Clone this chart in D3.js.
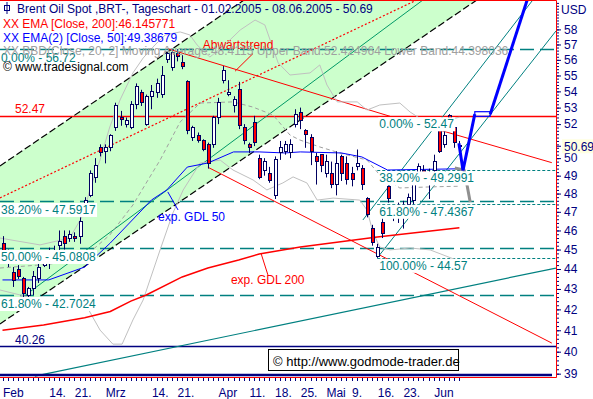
<!DOCTYPE html>
<html>
<head>
<meta charset="utf-8">
<script src="https://cdn.jsdelivr.net/npm/d3@7"></script>
<style>
  body { margin: 0; background: #fff; }
  text { font-family: "Liberation Sans", Arial, sans-serif; font-size: 12px; }
</style>
</head>
<body>
<div id="chart"></div>
<script>
// daily candles, 01.02.2005 - 08.06.2005 (index = trading day)
var opens  = [45.3,44.8,43.8,44.0,43.5,42.7,43.0,43.5,44.2,44.6, 44.8,45.2,45.7,45.6,45.7,45.7,47.1,47.9,48.9,50.6,
              50.4,50.6,51.8,52.4,52.0,51.8,53.2,53.9,52.0,53.7, 53.9,53.8,56.0,55.5,56.4,55.8,54.6,51.2,51.3,51.0,
              50.8,50.8,52.4,54.7,53.8,53.1,54.1,51.8,50.8,52.1, 50.0,49.3,49.1,47.9,50.3,50.4,50.3,52.0,52.7,51.6,
              51.2,50.1,50.2,49.1,49.1,48.5,50.1,49.7,49.1,49.5, 49.4,47.75,46.1,44.65,46.45,48.37,47.2,47.0,47.1,47.4,
              47.6,49.1,49.3,48.6,49.3,51.6,50.8,52.5,51.8,50.75];
var highs  = [45.7,45.0,44.1,44.2,43.6,43.1,43.9,44.5,44.9,45.1, 45.2,46.0,46.0,46.0,45.9,46.7,47.8,49.3,50.0,50.8,
              50.8,51.4,53.3,52.8,52.4,53.4,54.5,54.1,53.8,54.4, 54.8,55.6,56.5,56.72,56.7,56.3,54.7,51.9,51.5,51.1,
              50.9,52.5,53.6,55.6,54.7,53.7,54.6,52.0,50.9,52.5, 50.2,50.0,49.5,50.1,51.0,51.0,51.1,52.9,53.0,51.7,
              51.4,50.3,50.2,50.2,49.8,50.4,50.2,50.1,49.5,50.5, 49.6,47.8,46.3,45.3,46.7,48.6,47.3,47.5,47.6,48.0,
              48.8,49.7,49.6,49.4,50.2,51.8,51.6,52.6,52.0,51.0];
var lows   = [44.7,44.1,43.1,43.5,42.6,42.5,42.7,43.3,44.1,44.0, 44.5,44.9,45.0,45.4,45.4,45.3,46.9,47.8,48.6,50.1,
              49.7,50.4,51.6,51.9,51.8,51.7,52.9,53.1,51.9,52.9, 53.6,53.6,55.8,55.3,55.9,55.4,51.4,51.0,50.9,50.4,
              49.4,50.6,52.0,54.5,53.7,52.7,51.7,50.8,50.3,50.7, 48.8,49.0,48.6,47.7,49.9,50.2,50.0,51.8,51.7,50.6,
              49.6,48.5,49.2,48.9,48.3,47.9,48.7,48.5,48.4,49.3, 48.2,46.7,45.2,44.57,45.6,47.5,46.5,46.4,46.1,47.2,
              47.4,48.9,48.8,47.7,49.2,50.3,50.6,51.6,50.6,50.5];
var closes = [44.9,44.5,43.4,43.6,42.8,43.0,43.6,44.1,44.6,44.8, 44.9,45.4,45.3,45.8,45.6,46.5,47.6,49.1,49.6,50.3,
              50.6,51.3,53.1,52.3,52.2,53.2,54.3,53.3,53.7,54.0, 54.5,55.0,56.4,56.5,56.2,55.6,51.6,51.8,51.0,50.5,
              49.7,52.4,53.3,55.3,53.9,53.5,51.9,51.0,50.6,50.9, 48.9,49.8,48.7,49.9,50.6,50.8,50.8,52.6,52.2,51.4,
              50.4,49.8,49.6,49.8,48.5,49.7,49.1,48.8,48.8,49.7, 48.48,46.83,45.39,45.1,45.86,47.75,47.0,47.3,47.3,47.8,
              48.6,49.5,49.2,49.0,49.8,50.4,51.3,51.8,50.9,50.69];

// indicators: [day index, price]
var ema200 = [[0,41.0],[8,41.25],[16,41.6],[21,41.9],[25,42.4],[28,42.7],[35,43.6],[40,44.05],
              [46,44.46],[50,44.77],[58,45.13],[73,45.66],[89,46.15]];
var ema50  = [[0,43.45],[9,43.45],[16,44.1],[21,45.34],[29,47.64],[32,48.2],[36,49.49],[40,49.72],
              [45,50.36],[50,50.36],[55,50.3],[58,50.36],[66,50.3],[70,50.07],[75,49.32],[89,49.39]];
var bbUpper = [[-0.5,45.6],[7.3,45.24],[13.1,45.6],[15.7,46.83],[17,48.2],[19,49.89],[20.9,51.83],[22.9,53.47],
               [25.4,55.16],[27.4,56.12],[29.7,56.97],[31.7,57.63],[34.6,57.83],[36.5,57.63],[37.9,56.97],
               [40.4,56.18],[43.3,56.97],[46.3,57.96],[49.2,58.63],[51.1,58.3],[53.7,55.8],[56,55.03],[59.9,55.16],
               [61.8,55.67],[63.2,54.4],[65.2,53.35],[69.1,53.35],[71,52.85],[73.5,53.16],[77.4,53.28],
               [79.4,52.73],[83.3,51.95],[89,52.42]];
var bbLower = [[-0.5,42.95],[7.3,42.46],[15.7,42.46],[19,41.01],[21.5,40.35],[23.3,40.35],[25.4,41.49],
               [27.4,42.46],[30.7,44.98],[33.2,46.94],[35.2,48.2],[38.5,49.72],[42.4,49.89],[44.9,49.32],
               [48.8,48.76],[51.5,48.2],[54.6,48.59],[56.6,48.93],[59.3,48.59],[61.3,47.64],[64.4,47.75],
               [69.6,47.64],[71,47.1],[72.2,45.87],[73.5,45.13],[75.5,44.98],[79.4,45.08],[83.3,44.98],[89,44.4]];
var bbMiddle = [[-0.5,44.05],[9.25,44.25],[15.7,44.56],[20.9,45.76],[25.4,47.37],[30.7,49.89],[34.6,52.13],
                [38.5,53.28],[44.9,53.35],[48.8,53.03],[52.7,52.55],[56,51.35],[57.9,51.06],[61.8,50.65],
                [65.7,50.3],[71,49.89],[73.5,49.04],[77.4,48.31],[83.3,48.37],[89,48.41]];

// drawing tools: [day index, price]
var channelUpper = [[-0.5,49.55],[47.04,60]];
var channelLower = [[-0.5,41.3],[92.4,60]];
var channelFill  = [[-0.5,49.55],[47.04,60],[92.4,60],[-0.5,41.3]];
var redDotted    = [[-0.5,47.76],[80.7,60]];
var tealChannel  = [[4.5,42.7],[81.9,60]];
var tealLong     = [[6.3,38.89],[107.8,44.05]];
var downTrend    = [[32.2,56.72],[75.5,52.47]];
var downLower    = [[40,49.48],[107,40.4]];
var shortRed     = [[85.2,51.64],[107,49.74]];
var tealRightA   = [[70.2,46.56],[103.3,60]];
var tealRightB   = [[73.1,44.6],[107.8,57.89]];
var blueForecast1 = [[88.9,50.87],[89.7,49.3],[92.0,52.6]];
var blueForecast2 = [[95.0,52.6],[102.2,60]];
var blueBox       = [92.0,95.0,52.47,52.75];
var grayForecast  = [[88.1,49.43],[89.9,49.32],[90.3,48.76],[91.1,47.53]];

var fib1Levels = [56.72,47.5917,45.0808,42.7024];
var fib1Labels = ["0.00% - 56.72","38.20% - 47.5917","50.00% - 45.0808","61.80% - 42.7024"];
var fib2Levels = [52.47,49.2991,47.4367,44.57];
var fib2Labels = ["0.00% - 52.47","38.20% - 49.2991","61.80% - 47.4367","100.00% - 44.57"];
var fib2Start = 73;

var xTickIndex = [0,9,14,20,29,34,42,48,53,58,63,68,73,78,84];
var xTickLabel = ["Feb","14.","21.","Mrz","14.","21.","Apr","11.","18.","25.","Mai","9.","16.","23.","Jun"];
var yTickValues = [39,40,41,42,43,44,45,46,47,48,49,50,51,52,53,54,55,56,57,58];
var lastClose = 50.69;

var W = 593, H = 399, plotW = 556, plotH = 377;
var navy = "#000080", teal = "#008080";

var x = d3.scaleLinear().domain([0, 89]).range([2.5, 459.4]);
var y = d3.scaleLog().domain([38.85, 60]).range([plotH, 0]);
var line = d3.line().x(function (d) { return x(d[0]); }).y(function (d) { return y(d[1]); });

var svg = d3.select("#chart").append("svg").attr("width", W).attr("height", H);
svg.append("rect").attr("width", W).attr("height", H).attr("fill", "#fff");
svg.append("clipPath").attr("id", "plot").append("rect").attr("width", plotW).attr("height", plotH);

var g = svg.append("g").attr("clip-path", "url(#plot)");

g.append("path").attr("d", line(channelFill) + "Z").attr("fill", "#ccffcc");

function hline(v, color, dash, width, x0) {
  g.append("line")
    .attr("x1", x0 === undefined ? 0 : x(x0)).attr("x2", plotW)
    .attr("y1", Math.round(y(v)) + 0.5).attr("y2", Math.round(y(v)) + 0.5)
    .attr("stroke", color).attr("stroke-width", width || 1)
    .attr("stroke-dasharray", dash || null);
}
fib1Levels.forEach(function (v) { hline(v, teal, "14,6", 1.3); });
fib2Levels.forEach(function (v) { hline(v, teal, "3,2", 1, fib2Start); });
hline(52.47, "#ff0000", null, 1.3);
hline(40.26, navy, null, 1.3);

function path(data, color, width, dash) {
  g.append("path").attr("d", line(data)).attr("fill", "none")
    .attr("stroke", color).attr("stroke-width", width || 1)
    .attr("stroke-dasharray", dash || null);
}
path(channelUpper, "#000", 1.2, "7,3");
path(channelLower, "#000", 1.2, "7,3");
path(redDotted, "#ff0000", 1.2, "2,2");
path(tealChannel, "#009966", 1);
path(tealLong, teal, 1.2);
path(downTrend, "#ff0000", 1);
path(downLower, "#ff0000", 1);
path(shortRed, "#ff0000", 1);
path(tealRightA, teal, 1);
path(tealRightB, teal, 1);

path(bbUpper, "#c0c0c0", 1);
path(bbLower, "#c0c0c0", 1);
path(bbMiddle, "#a0a0a0", 1, "4,3");
path(ema200, "#ff0000", 1.5);
path(ema50, "#0000ff", 1);

// candles
var days = d3.range(closes.length);
var candle = g.append("g").selectAll("g").data(days).enter().append("g");
candle.append("line")
  .attr("x1", function (i) { return Math.round(x(i)) + 0.5; })
  .attr("x2", function (i) { return Math.round(x(i)) + 0.5; })
  .attr("y1", function (i) { return y(highs[i]); })
  .attr("y2", function (i) { return y(lows[i]); })
  .attr("stroke", "#000060").attr("stroke-width", 1);
candle.append("rect")
  .attr("x", function (i) { return Math.round(x(i)) - 1; })
  .attr("width", 3)
  .attr("y", function (i) { return y(Math.max(opens[i], closes[i])); })
  .attr("height", function (i) { return Math.max(1, Math.abs(y(opens[i]) - y(closes[i]))); })
  .attr("fill", function (i) { return closes[i] < opens[i] ? "#ff0000" : "#fff"; })
  .attr("stroke", "#000060").attr("stroke-width", 1)
  .attr("shape-rendering", "crispEdges");

// forecast sketch
path(grayForecast, "#909090", 3);
path(blueForecast1, "#0000ff", 3);
path(blueForecast2, "#0000ff", 3);
g.append("rect")
  .attr("x", x(blueBox[0])).attr("width", x(blueBox[1]) - x(blueBox[0]))
  .attr("y", y(blueBox[3])).attr("height", y(blueBox[2]) - y(blueBox[3]))
  .attr("fill", "none").attr("stroke", "#0000ff").attr("stroke-width", 1.2);

// annotations
path([[45.3,55.27],[48.8,56.41]], "#ff0000", 1);
path([[32.2,48.09],[34.2,47.1]], "#0000ff", 1);
path([[50.4,44.77],[51.7,43.7]], "#ff0000", 1);
g.append("text").attr("x", x(39.0)).attr("y", y(56.68)).attr("fill", "#ff0000").text("Abwärtstrend");
g.append("text").attr("x", x(30.3)).attr("y", y(46.51)).attr("fill", "#0000ff").text("exp. GDL 50");
g.append("text").attr("x", x(44.5)).attr("y", y(43.25)).attr("fill", "#ff0000").text("exp. GDL 200");

function boxedLabel(px, py, txt, color) {
  var t = g.append("text").attr("x", px).attr("y", py).attr("fill", color).text(txt);
  var b = t.node().getBBox();
  g.insert("rect", function () { return t.node(); })
    .attr("x", b.x - 1).attr("y", b.y).attr("width", b.width + 2).attr("height", b.height)
    .attr("fill", "#fff");
}
fib1Levels.forEach(function (v, k) { boxedLabel(1, y(v) + 13, fib1Labels[k], teal); });
fib2Levels.forEach(function (v, k) { boxedLabel(x(fib2Start) + 2, y(v) + 12, fib2Labels[k], teal); });

g.append("text").attr("x", 15).attr("y", y(52.47) - 3).attr("fill", "#ff0000").text("52.47");
g.append("text").attr("x", 15).attr("y", y(40.26) - 2).attr("fill", navy).text("40.26");

// legend
var lg = svg.append("g");
lg.append("rect").attr("x", 4.5).attr("y", 5.5).attr("width", 5).attr("height", 5).attr("fill", "none").attr("stroke", navy);
lg.append("line").attr("x1", 7).attr("x2", 7).attr("y1", 2).attr("y2", 14).attr("stroke", navy);
lg.append("text").attr("x", 17).attr("y", 13).attr("fill", navy)
  .text("Brent Oil Spot ,BRT-, Tageschart - 01.02.2005 - 08.06.2005 - 50.69");
lg.append("text").attr("x", 3).attr("y", 28).attr("fill", "#ff0000").text("XX EMA [Close, 200]:46.145771");
lg.append("text").attr("x", 3).attr("y", 42).attr("fill", "#0000ff").text("XX EMA(2) [Close, 50]:49.38679");
lg.append("text").attr("x", 3).attr("y", 55).attr("fill", "#a0a0a0")
  .text("XX BBD(Close, 20, 2] Moving Average:48.4115 Upper Band:52.424964 Lower Band:44.398036");
lg.append("text").attr("x", 3).attr("y", 71).attr("fill", "#000").text("© www.tradesignal.com");

// copyright box
svg.append("rect").attr("x", 268.5).attr("y", 349.5).attr("width", 190).attr("height", 21)
  .attr("fill", "#fff").attr("stroke", "#000");
svg.append("text").attr("x", 273).attr("y", 366).attr("fill", "#000").style("font-size", "13px")
  .text("© http://www.godmode-trader.de");

// bottom line and frame
svg.append("line").attr("x1", 0).attr("x2", 552).attr("y1", 375).attr("y2", 375)
  .attr("stroke", navy).attr("stroke-width", 2.5);
svg.append("path").attr("d", "M0,0.5H556.5V377.5H0").attr("fill", "none").attr("stroke", "#ff0000");

// x axis
var xAxis = d3.axisBottom(x).tickValues(days).tickSize(3)
  .tickFormat(function (i) { var k = xTickIndex.indexOf(i); return k < 0 ? "" : xTickLabel[k]; });
var xa = svg.append("g").attr("transform", "translate(0,378)").call(xAxis);
xa.select(".domain").remove();
xa.selectAll(".tick line").attr("stroke", navy).attr("shape-rendering", "crispEdges");
xa.selectAll(".tick text").attr("fill", navy).attr("text-anchor", "start").attr("dy", 0).attr("y", 19)
  .style("font-size", "12px").style("font-family", "'Liberation Sans', Arial, sans-serif");

// y axis (labels next to the last-price marker are hidden, as in the original)
var minor = d3.range(38.8, 60, 0.2);
var ya2 = svg.append("g").attr("transform", "translate(557,0)")
  .call(d3.axisRight(y).tickValues(minor.filter(function (v) { return y(v) > 2 && y(v) < plotH; })).tickSize(2).tickFormat(""));
ya2.select(".domain").remove();
ya2.selectAll("line").attr("stroke", navy);
var shownTicks = yTickValues.filter(function (v) { return Math.abs(y(v) - y(lastClose)) > 9; });
var ya = svg.append("g").attr("transform", "translate(557,0)")
  .call(d3.axisRight(y).tickValues(shownTicks).tickSize(4).tickPadding(3).tickFormat(d3.format("d")));
ya.select(".domain").remove();
ya.selectAll("line").attr("stroke", navy);
ya.selectAll("text").attr("fill", navy).style("font-size", "12px")
  .style("font-family", "'Liberation Sans', Arial, sans-serif");
svg.append("text").attr("x", 561).attr("y", 14).attr("fill", navy).text("USD");

// last price marker
svg.append("rect").attr("x", 562).attr("y", y(lastClose) - 7).attr("width", 31).attr("height", 14).attr("fill", "#ffffe0");
svg.append("line").attr("x1", 557).attr("x2", 561).attr("y1", y(lastClose)).attr("y2", y(lastClose)).attr("stroke", navy);
svg.append("text").attr("x", 564).attr("y", y(lastClose) + 4.5).attr("fill", navy).text(d3.format(".2f")(lastClose));
</script>
</body>
</html>
